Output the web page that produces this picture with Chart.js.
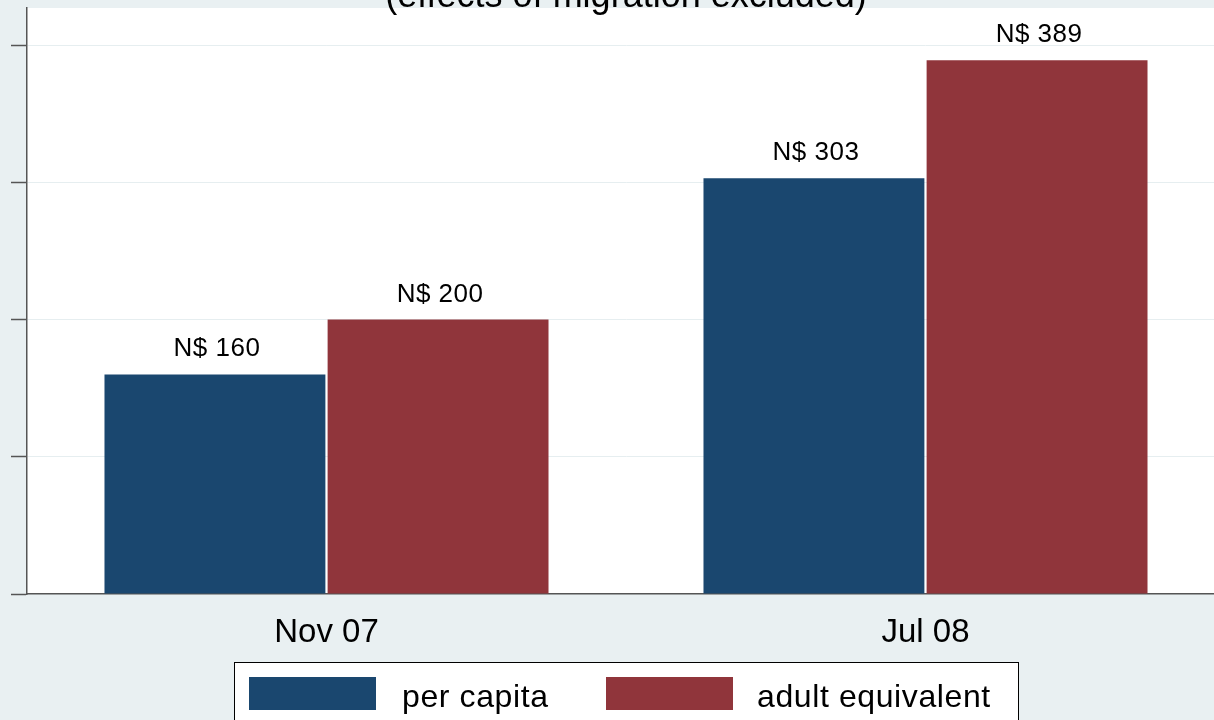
<!DOCTYPE html>
<html>
<head>
<meta charset="utf-8">
<script src="https://cdn.jsdelivr.net/npm/chart.js@4.4.1/dist/chart.umd.min.js"></script>
<style>
  html, body { margin: 0; padding: 0; background: #e9f0f2; overflow: hidden; }
  canvas { display: block; }
</style>
</head>
<body>
<canvas id="consumption-chart" width="1240" height="720"></canvas>
<script>
// values
const periods = ['Nov 07', 'Jul 08'];
const perCapita = [160, 303];
const adultEquivalent = [200, 389];
const seriesNames = ['per capita', 'adult equivalent'];
const yTicks = [0, 100, 200, 300, 400];
const subtitle = '(effects of migration excluded)';

const FONT = '"Liberation Sans", Arial, sans-serif';
const NAVY = '#1a476f';
const MAROON = '#90353b';

// grey page + white plot region, like the Stata scheme
const backgroundPlugin = {
    id: 'backgrounds',
    beforeDraw(chart) {
        const { ctx, chartArea: a } = chart;
        ctx.save();
        ctx.fillStyle = '#e9f0f2';
        ctx.fillRect(0, 0, chart.width, chart.height);
        ctx.fillStyle = '#ffffff';
        ctx.fillRect(a.left, a.top, a.right - a.left, a.bottom - a.top);
        ctx.restore();
    }
};

// subtitle sits mostly above the top edge of the picture
const subtitlePlugin = {
    id: 'subtitle',
    afterDraw(chart) {
        const ctx = chart.ctx;
        ctx.save();
        ctx.font = `36px ${FONT}`;
        ctx.fillStyle = '#000';
        ctx.textAlign = 'center';
        ctx.textBaseline = 'alphabetic';
        ctx.fillText(subtitle, 626, 7);
        ctx.restore();
    }
};

// "N$ xxx" above every bar
const valueLabelPlugin = {
    id: 'valueLabels',
    afterDatasetsDraw(chart) {
        const ctx = chart.ctx;
        ctx.save();
        ctx.font = `26px ${FONT}`;
        ctx.letterSpacing = '0.5px';
        ctx.fillStyle = '#000';
        ctx.textAlign = 'center';
        ctx.textBaseline = 'alphabetic';
        chart.data.datasets.forEach((ds, i) => {
            chart.getDatasetMeta(i).data.forEach((bar, j) => {
                ctx.fillText(`N$ ${ds.data[j]}`, bar.x + 2, bar.y - 18);
            });
        });
        ctx.restore();
    }
};

// boxed legend under the axis, cut by the bottom of the picture
const boxLegendPlugin = {
    id: 'boxLegend',
    afterDraw(chart) {
        const ctx = chart.ctx;
        const swatchX = [249, 606];
        const textX = [402, 757];
        ctx.save();
        ctx.fillStyle = '#ffffff';
        ctx.fillRect(234, 662, 784, 80);
        ctx.strokeStyle = '#000';
        ctx.lineWidth = 1;
        ctx.strokeRect(234.5, 662.5, 784, 80);
        ctx.font = `32px ${FONT}`;
        ctx.letterSpacing = '0.6px';
        ctx.textBaseline = 'alphabetic';
        ctx.textAlign = 'left';
        chart.data.datasets.forEach((ds, i) => {
            ctx.fillStyle = ds.backgroundColor;
            ctx.fillRect(swatchX[i], 677, 127, 33);
            ctx.fillStyle = '#000';
            ctx.fillText(ds.label, textX[i], 707);
        });
        ctx.restore();
    }
};

const ctx = document.getElementById('consumption-chart').getContext('2d');

new Chart(ctx, {
    type: 'bar',
    data: {
        labels: periods,
        datasets: [
            {
                label: seriesNames[0],
                data: perCapita,
                backgroundColor: NAVY,
                barPercentage: 0.99,
                categoryPercentage: 0.745
            },
            {
                label: seriesNames[1],
                data: adultEquivalent,
                backgroundColor: MAROON,
                barPercentage: 0.99,
                categoryPercentage: 0.745
            }
        ]
    },
    options: {
        responsive: false,
        animation: false,
        devicePixelRatio: 1,
        layout: { padding: { left: 11, top: 8, right: 15, bottom: 0 } },
        plugins: {
            legend: { display: false },
            title: { display: false },
            tooltip: { enabled: false }
        },
        scales: {
            x: {
                grid: { display: false, drawTicks: false },
                border: { display: true, color: '#555', width: 1.5 },
                ticks: {
                    color: '#000',
                    padding: 19,
                    font: { family: FONT, size: 33 }
                },
                afterFit(scale) { scale.height = 126; }
            },
            y: {
                min: 0,
                max: 427,
                grid: {
                    color: '#e6eef0',
                    lineWidth: 1,
                    drawTicks: true,
                    tickLength: 16,
                    tickColor: '#555',
                    tickWidth: 1.5
                },
                border: { display: true, color: '#555', width: 1.5 },
                ticks: { display: false },
                afterBuildTicks(scale) {
                    scale.ticks = yTicks.map(v => ({ value: v }));
                }
            }
        }
    },
    plugins: [backgroundPlugin, subtitlePlugin, valueLabelPlugin, boxLegendPlugin]
});
</script>
</body>
</html>
